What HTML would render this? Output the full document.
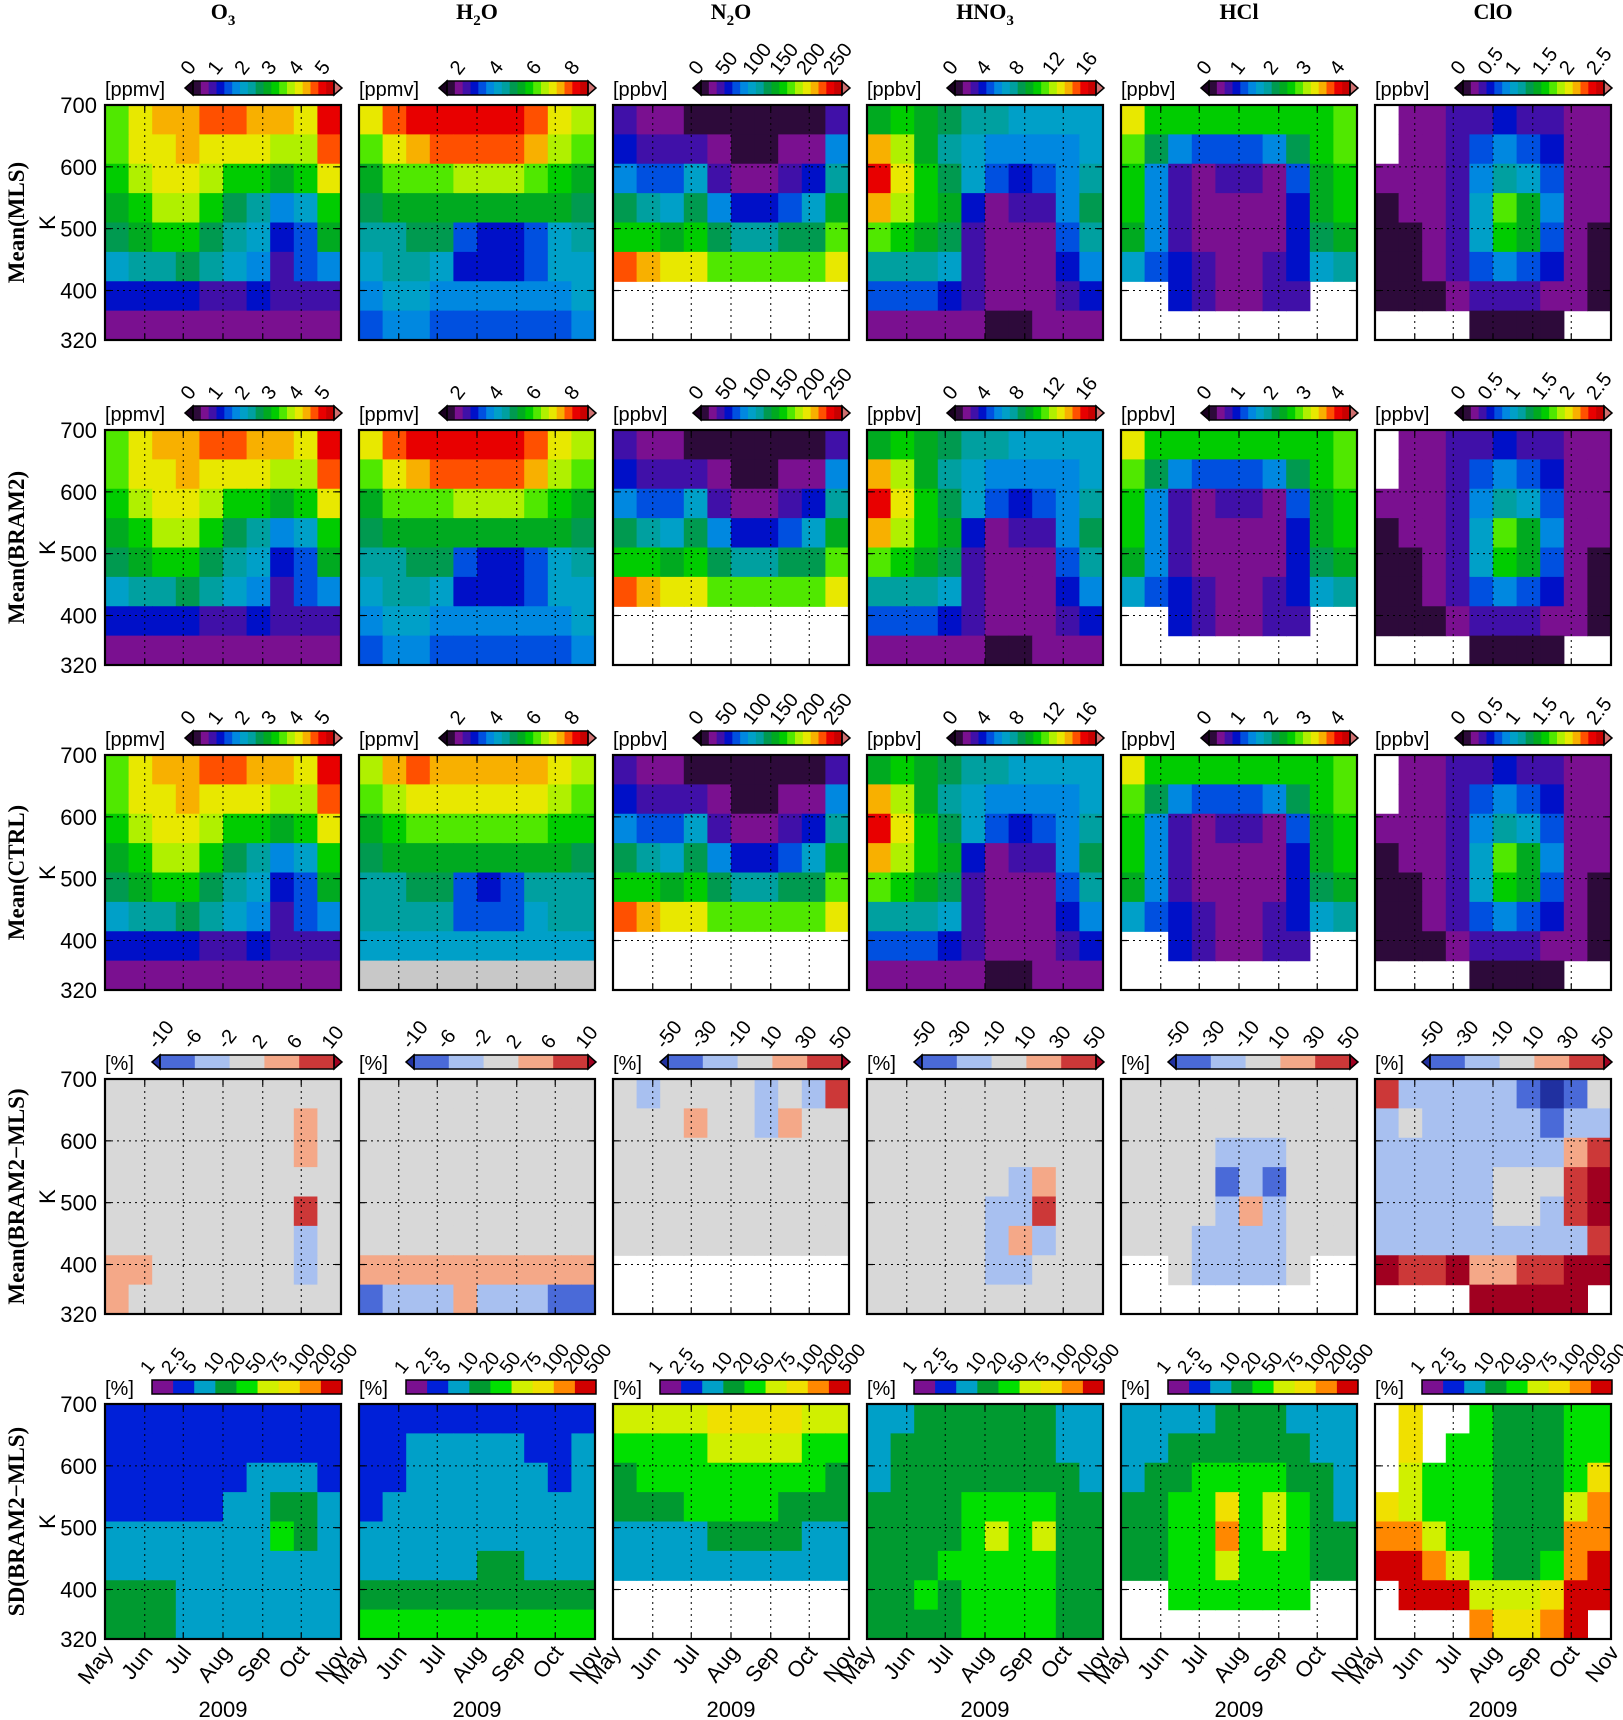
<!DOCTYPE html>
<html><head><meta charset="utf-8"><style>
html,body{margin:0;padding:0;background:#fff;}
svg{display:block;}
text{font-family:"Liberation Sans",sans-serif;fill:#000;}
.serif{font-family:"Liberation Serif",serif;font-weight:bold;}
</style></head><body>
<svg id="fig" width="1623" height="1720" viewBox="0 0 1623 1720" xmlns="http://www.w3.org/2000/svg"></svg>
<script>
// ---------- data (rows: 700K top -> 320K bottom; cols: May -> Nov) ----------
const months = ['May','Jun','Jul','Aug','Sep','Oct','Nov'];
const monthDays = [0,31,61,92,123,153,184];
const yTicks = [320,400,500,600,700];
const species = ['O3','H2O','N2O','HNO3','HCl','ClO'];
const rowTitles = ['Mean(MLS)','Mean(BRAM2)','Mean(CTRL)','Mean(BRAM2\u2212MLS)','SD(BRAM2\u2212MLS)'];
const N = null;

const o3Mean = [
[3.4,3.9,4.1,4.3,4.4,4.4,4.2,4.1,4.0,4.7],
[3.3,3.8,4.0,4.1,4.0,3.9,3.8,3.7,3.7,4.5],
[3.1,3.5,3.8,3.9,3.5,3.2,3.1,2.9,3.0,4.0],
[2.9,3.2,3.6,3.7,3.0,2.6,2.3,1.6,1.8,3.2],
[2.6,2.8,3.0,3.0,2.6,2.3,1.9,1.0,1.3,2.8],
[2.0,2.2,2.3,2.4,2.1,1.8,1.5,0.8,1.2,1.6],
[0.9,1.0,1.1,0.9,0.8,0.8,0.9,0.6,0.6,0.6],
[0.4,0.4,0.4,0.5,0.5,0.5,0.5,0.5,0.5,0.5]];
const h2oMean = [
[6.8,7.6,8.0,8.1,8.1,8.1,8.0,7.7,6.8,6.2],
[6.0,6.8,7.3,7.5,7.6,7.7,7.6,7.1,6.2,5.8],
[5.3,5.8,6.0,6.1,6.2,6.2,6.2,6.0,5.7,5.3],
[4.7,5.0,5.1,5.2,5.1,5.1,5.0,5.0,4.9,4.8],
[4.2,4.4,4.5,4.6,2.9,2.6,2.6,3.2,4.0,4.3],
[4.0,4.2,4.1,4.0,2.8,2.6,2.7,3.0,3.8,4.0],
[3.6,3.8,3.7,3.6,3.5,3.3,3.4,3.5,3.6,3.7],
[3.2,3.3,3.3,3.2,3.2,3.2,3.2,3.2,3.2,3.3]];
const h2oCtrl = [
[6.4,7.2,7.6,7.1,7.0,7.0,7.0,7.0,6.7,6.3],
[5.9,6.4,6.7,6.8,6.8,6.8,6.8,6.7,6.3,5.9],
[5.3,5.6,5.9,6.0,6.0,6.0,6.0,5.9,5.7,5.4],
[4.7,4.9,5.0,5.1,5.0,5.0,5.0,5.0,4.9,4.8],
[4.3,4.4,4.5,4.5,3.0,2.8,3.2,4.2,4.3,4.4],
[4.1,4.2,4.2,4.2,3.0,2.9,3.2,4.0,4.1,4.1],
[3.8,3.9,3.9,3.9,3.8,3.8,3.8,3.8,3.9,3.9],
[-1,-1,-1,-1,-1,-1,-1,-1,-1,-1]];
const n2oMean = [
[30,20,15,10,8,8,8,8,10,40],
[50,40,35,40,20,12,12,15,20,80],
[80,70,60,90,40,25,25,30,50,110],
[120,110,100,130,80,55,55,65,90,140],
[160,150,140,160,130,110,110,120,130,170],
[220,210,200,190,170,165,165,165,170,200],
[N,N,N,N,N,N,N,N,N,N],
[N,N,N,N,N,N,N,N,N,N]];
const hno3Mean = [
[9,10,9,8,7,7,6,6,6,6],
[14,12,9,7,6,5,5,5,5,6],
[16,13,10,8,6,4,3,4,5,7],
[14,12,10,9,3,1.2,2,2,5,8],
[11,10,9,8,2,1.2,1.2,1.2,4,7],
[7,7,7,6,2,1.2,1.2,1.2,3,5],
[4,4,4,3,2,1.2,1.2,1.2,2,3],
[1,1,1,1.2,1,0.8,0.8,1,1,1]];
const hclMean = [
[3.2,2.5,2.4,2.4,2.4,2.4,2.4,2.4,2.5,2.6],
[2.8,2.0,1.2,1.1,1.1,1.1,1.2,2.0,2.4,2.6],
[2.5,1.4,0.7,0.4,0.6,0.7,0.4,1.0,2.2,2.5],
[2.4,1.3,0.6,0.4,0.3,0.4,0.4,0.9,2.2,2.4],
[2.2,1.2,0.7,0.4,0.4,0.4,0.4,0.9,2.0,2.2],
[1.5,1.1,0.9,0.5,0.45,0.45,0.5,0.8,1.6,1.8],
[N,N,0.8,0.5,0.45,0.45,0.5,0.6,N,N],
[N,N,N,N,N,N,N,N,N,N]];
const cloMean = [
[N,0.2,0.2,0.3,0.4,0.5,0.4,0.3,0.2,0.2],
[N,0.2,0.2,0.35,0.6,0.8,0.7,0.45,0.25,0.2],
[0.2,0.2,0.2,0.4,0.8,1.1,1.0,0.6,0.25,0.2],
[0.1,0.2,0.2,0.4,1.0,1.6,1.4,0.8,0.25,0.2],
[0.1,0.1,0.2,0.35,0.9,1.5,1.3,0.7,0.25,0.1],
[0.1,0.1,0.15,0.3,0.6,0.8,0.7,0.45,0.2,0.1],
[0.05,0.05,0.1,0.2,0.3,0.35,0.35,0.25,0.15,0.05],
[N,N,N,N,0.1,0.1,0.1,0.1,N,N]];

const o3Diff = [
[0,0,0,0,0,0,0,0,0,0],[0,0,0,0,0,0,0,0,3,0],[0,0,0,0,0,0,0,0,3,0],[0,0,0,0,0,0,0,0,0,0],
[0,0,0,0,0,0,0,0,8,0],[0,0,0,0,0,0,0,0,-3,0],[3,3,0,0,0,0,0,0,-3,0],[3,0,0,0,0,0,0,0,0,0]];
const h2oDiff = [
[0,0,0,0,0,0,0,0,0,0],[0,0,0,0,0,0,0,0,0,0],[0,0,0,0,0,0,0,0,0,0],[0,0,0,0,0,0,0,0,0,0],
[0,0,0,0,0,0,0,0,0,0],[0,0,0,0,0,0,0,0,0,0],[5,4,3,4,3,4,3,3,4,5],[-8,-6,-4,-5,3,-6,-4,-5,-8,-8]];
const n2oDiff = [
[0,-12,0,0,0,0,-12,0,-12,30],[0,0,0,12,0,0,-12,12,0,0],[0,0,0,0,0,0,0,0,0,0],[0,0,0,0,0,0,0,0,0,0],
[0,0,0,0,0,0,0,0,0,0],[0,0,0,0,0,0,0,0,0,0],[N,N,N,N,N,N,N,N,N,N],[N,N,N,N,N,N,N,N,N,N]];
const hno3Diff = [
[0,0,0,0,0,0,0,0,0,0],[0,0,0,0,0,0,0,0,0,0],[0,0,0,0,0,0,0,0,0,0],[0,0,0,0,0,0,-12,15,0,0],
[0,0,0,0,0,-12,-15,40,0,0],[0,0,0,0,0,-12,12,-12,0,0],[0,0,0,0,0,-15,-12,0,0,0],[0,0,0,0,0,0,0,0,0,0]];
const hclDiff = [
[0,0,0,0,0,0,0,0,0,0],[0,0,0,0,0,0,0,0,0,0],[0,0,0,0,-30,-15,-25,0,0,0],[0,0,0,0,-40,-20,-40,0,0,0],
[0,0,0,0,-15,12,-15,0,0,0],[0,0,0,-12,-20,-15,-20,0,0,0],[N,N,0,-12,-15,-12,-15,0,N,N],[N,N,N,N,N,N,N,N,N,N]];
const cloDiff = [
[30,-12,-25,-20,-15,-25,-40,-60,-40,0],
[-12,0,-20,-15,-12,-20,-25,-40,-20,-12],
[-20,-12,-25,-20,-12,-12,-12,-12,15,30],
[-25,-20,-30,-12,-12,0,0,0,40,60],
[-30,-25,-30,-20,-12,0,0,-12,30,60],
[-30,-30,-25,-25,-20,-12,-12,-20,-12,30],
[60,40,30,50,20,20,30,40,60,60],
[N,N,N,N,60,60,60,60,60,N]];

const o3Sd = [
[3,3,3,3,3,3,3,3,3,4],[3,3,3,3,3,3,3,4,4,4],[3,3,3,3,3,3,6,6,6,4],[4,4,3,4,4,6,7,15,12,6],
[6,6,6,6,6,7,8,25,15,8],[8,8,8,7,7,7,7,8,8,8],[12,12,10,8,8,8,8,8,8,8],[12,12,12,8,8,8,8,8,8,8]];
const h2oSd = [
[3,3,3,3,4,3,3,3,3,4],[3,3,6,6,6,6,6,4,3,6],[3,4,6,6,6,6,6,6,4,6],[4,6,6,6,6,6,6,6,6,6],
[6,6,7,8,7,7,7,7,8,8],[8,8,8,8,8,12,12,8,8,8],[15,15,12,12,15,12,15,15,15,12],[25,30,30,25,40,30,30,30,30,30]];
const n2oSd = [
[60,70,60,60,80,85,80,80,70,70],[30,40,40,40,55,70,60,50,40,30],[15,20,25,30,40,40,30,25,25,15],
[12,15,15,25,25,25,20,15,15,12],[8,8,8,8,12,15,15,12,8,8],[7,7,7,7,7,7,7,7,7,7],
[N,N,N,N,N,N,N,N,N,N],[N,N,N,N,N,N,N,N,N,N]];
const hno3Sd = [
[6,6,12,12,12,12,12,12,8,8],[6,12,12,12,15,12,12,12,8,8],[6,12,15,15,15,15,15,15,12,8],
[12,15,15,15,25,40,25,40,15,12],[15,15,15,15,30,60,30,55,15,12],[15,15,15,25,25,40,30,30,15,12],
[15,15,25,15,25,40,40,25,15,12],[15,15,15,15,40,40,40,25,15,15]];
const hclSd = [
[6,6,6,8,12,12,12,8,6,6],[6,6,12,15,15,15,15,12,8,6],[6,12,15,25,25,30,30,15,12,6],
[12,15,25,30,80,35,55,25,12,8],[12,15,25,30,150,40,60,30,15,12],[12,15,25,30,60,40,30,25,15,12],
[N,N,25,30,30,30,30,25,N,N],[N,N,N,N,N,N,N,N,N,N]];
const cloSd = [
[N,80,N,N,30,15,15,15,25,30],[N,80,N,35,25,15,12,12,20,35],[N,50,40,40,25,15,12,12,40,80],
[80,60,40,40,20,15,12,12,60,150],[150,100,50,30,20,15,12,15,100,150],[300,200,150,60,20,15,15,20,120,300],
[N,300,300,200,60,50,60,80,200,300],[N,N,N,N,100,80,80,100,300,N]];

// colorbar tick labels & ranges
const meanRanges = [[0,5.25],[1.2,8.6],[0,262],[0,17],[0,4.25],[0,2.6]];
const meanTicks = [[0,1,2,3,4,5],[2,4,6,8],[0,50,100,150,200,250],[0,4,8,12,16],[0,1,2,3,4],[0,0.5,1,1.5,2,2.5]];
const meanUnits = ['[ppmv]','[ppmv]','[ppbv]','[ppbv]','[ppbv]','[ppbv]'];
const diffSmall = [-10,-6,-2,2,6,10];
const diffLarge = [-50,-30,-10,10,30,50];
const sdLevels = [1,2.5,5,10,20,50,75,100,200,500];

const gridsMLS = [o3Mean,h2oMean,n2oMean,hno3Mean,hclMean,cloMean];
const gridsBRAM = [o3Mean,h2oMean,n2oMean,hno3Mean,hclMean,cloMean];
const gridsCTRL = [o3Mean,h2oCtrl,n2oMean,hno3Mean,hclMean,cloMean];
const gridsDiff = [o3Diff,h2oDiff,n2oDiff,hno3Diff,hclDiff,cloDiff];
const gridsSd = [o3Sd,h2oSd,n2oSd,hno3Sd,hclSd,cloSd];

// ---------- styling ----------
const meanColors = ['#2d0a3a','#7a1090','#4010a8','#0010c8','#0050e0','#0088e0','#00a0c8','#00a0a0','#009a50','#00aa20','#00cc00','#50e800','#b0f000','#e8e800','#f8b000','#ff5000','#e80000','#c80000'];
const meanUnder = '#1a0020', meanOver = '#d07070';
const diffColors = ['#4a6ad8','#a8c0f0','#d8d8d8','#f4a888','#cc3838'];
const diffUnder = '#2030a0', diffOver = '#a00020';
const sdColors = ['#7a1090','#0020d8','#00a0c8','#009a30','#00e000','#d0f000','#f0e000','#ff8800','#d00000'];

const W=236, H=235, L0=105, T0=105, DX=254, DY=324.75;
const NS='http://www.w3.org/2000/svg';
const svg=document.getElementById('fig');
function el(tag,attrs,parent){const e=document.createElementNS(NS,tag);for(const k in attrs)e.setAttribute(k,attrs[k]);(parent||svg).appendChild(e);return e;}

function colorFor(v,bounds,colors,under,over){
  if(v===null) return null;
  if(v<bounds[0]) return under;
  for(let i=0;i<bounds.length-1;i++){ if(v<bounds[i+1]) return colors[i]; }
  return over;
}
function linBounds(lo,hi,n){const b=[];for(let i=0;i<=n;i++)b.push(lo+(hi-lo)*i/n);return b;}

function xScale(left,day){return left+day/184*W;}
function yScale(top,k){return top+(700-k)/380*H;}

function drawPanel(r,c){
  const left=L0+c*DX, top=Math.round(T0+r*DY);
  const g=el('g',{});
  
  
  let grid,bounds,colors,under,over;
  if(r<3){grid=[gridsMLS,gridsBRAM,gridsCTRL][r][c];bounds=linBounds(meanRanges[c][0],meanRanges[c][1],meanColors.length);colors=meanColors;under=meanUnder;over=meanOver;}
  else if(r===3){grid=gridsDiff[c];bounds=c<2?diffSmall:diffLarge;colors=diffColors;under=diffUnder;over=diffOver;}
  else {grid=gridsSd[c];bounds=sdLevels;colors=sdColors;under=sdColors[0];over=sdColors[8];}
  const nz=grid.length, nt=grid[0].length;
  for(let i=0;i<nz;i++){
    const k0=700-380*i/nz, k1=700-380*(i+1)/nz;
    for(let j=0;j<nt;j++){
      const v=grid[i][j];
      let col;
      if(v===-1 && r<3) col='#c8c8c8'; else col=colorFor(v,bounds,colors,under,over);
      if(!col) continue;
      const x0=xScale(left,184*j/nt), x1=xScale(left,184*(j+1)/nt);
      const y0=yScale(top,k0), y1=yScale(top,k1);
      const cell=el('rect',{x:x0.toFixed(2),y:y0.toFixed(2),width:(x1-x0+0.6).toFixed(2),height:(y1-y0+0.6).toFixed(2),fill:col},g);
      
      
    }
  }
  for(let m=1;m<6;m++){const x=xScale(left,monthDays[m]);el('line',{x1:x,y1:top,x2:x,y2:top+H,stroke:'#000','stroke-width':1,'stroke-dasharray':'2,4'},g);}
  for(const k of [400,500,600]){const y=yScale(top,k);el('line',{x1:left,y1:y,x2:left+W,y2:y,stroke:'#000','stroke-width':1,'stroke-dasharray':'2,4'},g);}
  for(let m=1;m<6;m++){const x=xScale(left,monthDays[m]);el('line',{x1:x,y1:top+H,x2:x,y2:top+H-6,stroke:'#000','stroke-width':1.2},g);el('line',{x1:x,y1:top,x2:x,y2:top+6,stroke:'#000','stroke-width':1.2},g);}
  for(const k of [400,500,600]){const y=yScale(top,k);el('line',{x1:left,y1:y,x2:left+6,y2:y,stroke:'#000','stroke-width':1.2},g);el('line',{x1:left+W,y1:y,x2:left+W-6,y2:y,stroke:'#000','stroke-width':1.2},g);}
  const frame=el('rect',{x:left,y:top,width:W,height:H,fill:'none',stroke:'#000','stroke-width':2.2},g);
  
  
  if(c===0){
    for(const k of yTicks){const t=el('text',{x:left-8,y:yScale(top,k)+8,'text-anchor':'end','font-size':22},g);t.textContent=k;
      
      }
    const kt=el('text',{transform:`translate(${left-50},${top+H/2}) rotate(-90)`,'text-anchor':'middle','font-size':22},g);kt.textContent='K';
    
    
    const rt=el('text',{class:'serif',transform:`translate(${left-81},${top+H/2}) rotate(-90)`,'text-anchor':'middle','font-size':23},g);rt.textContent=rowTitles[r];
    
    
  }
  if(r===4){
    for(let m=0;m<7;m++){const x=xScale(left,monthDays[m]);const t=el('text',{transform:`translate(${x+9},${top+H+14}) rotate(-52)`,'text-anchor':'end','font-size':22},g);t.textContent=months[m];
      
      }
    const yr=el('text',{x:left+W/2,y:1717,'text-anchor':'middle','font-size':22},g);yr.textContent='2009';
    
    
  }
  if(r===0){
    const ct=el('text',{class:'serif',x:left+W/2,y:19,'text-anchor':'middle','font-size':22},g);
    
    
    const lab={'O3':['O','3',''],'H2O':['H','2','O'],'N2O':['N','2','O'],'HNO3':['HNO','3',''],'HCl':['HCl','',''],'ClO':['ClO','','']}[species[c]];
    const a=el('tspan',{},ct);a.textContent=lab[0];
    if(lab[1]){const s=el('tspan',{dy:6,'font-size':15},ct);s.textContent=lab[1];}
    if(lab[2]){const s=el('tspan',{dy:-6},ct);s.textContent=lab[2];}
  }
  drawColorbar(r,c,left,top);
}

function drawColorbar(r,c,left,top){
  const g=el('g',{});
  
  
  const by=top-24, bh=14;
  let x0,x1,cols,labels,labelPos,extend,unit;
  if(r<3){x0=left+88;x1=left+229;cols=meanColors;extend=[meanUnder,meanOver];unit=meanUnits[c];
    const [lo,hi]=meanRanges[c];labels=meanTicks[c];labelPos=labels.map(v=>x0+(v-lo)/(hi-lo)*(x1-x0));}
  else if(r===3){x0=left+55;x1=left+229;cols=diffColors;extend=[diffUnder,diffOver];unit='[%]';
    labels=c<2?diffSmall:diffLarge;labelPos=labels.map((v,i)=>x0+i/(labels.length-1)*(x1-x0));}
  else {x0=left+47;x1=left+237;cols=sdColors;extend=null;unit='[%]';
    labels=sdLevels;labelPos=labels.map((v,i)=>x0+i/(labels.length-1)*(x1-x0));}
  const ut=el('text',{x:left,y:by+bh+1,'font-size':20},g);ut.textContent=unit;
  
  
  const n=cols.length,w=(x1-x0)/n;
  cols.forEach((cl,i)=>{el('rect',{x:x0+i*w,y:by,width:w+0.5,height:bh,fill:cl},g);});
  if(extend){
    el('polygon',{points:`${x0},${by} ${x0-8},${by+bh/2} ${x0},${by+bh}`,fill:extend[0],stroke:'#000','stroke-width':1.5},g);
    el('polygon',{points:`${x1},${by} ${x1+8},${by+bh/2} ${x1},${by+bh}`,fill:extend[1],stroke:'#000','stroke-width':1.5},g);
  }
  el('rect',{x:x0,y:by,width:x1-x0,height:bh,fill:'none',stroke:'#000','stroke-width':1.5},g);
  labels.forEach((v,i)=>{const t=el('text',{transform:`translate(${labelPos[i]-3},${by-5}) rotate(-52)`,'font-size':r===4?19:20},g);t.textContent=v;
    
    });
}

for(let r=0;r<5;r++)for(let c=0;c<6;c++)drawPanel(r,c);
</script>
</body></html>
